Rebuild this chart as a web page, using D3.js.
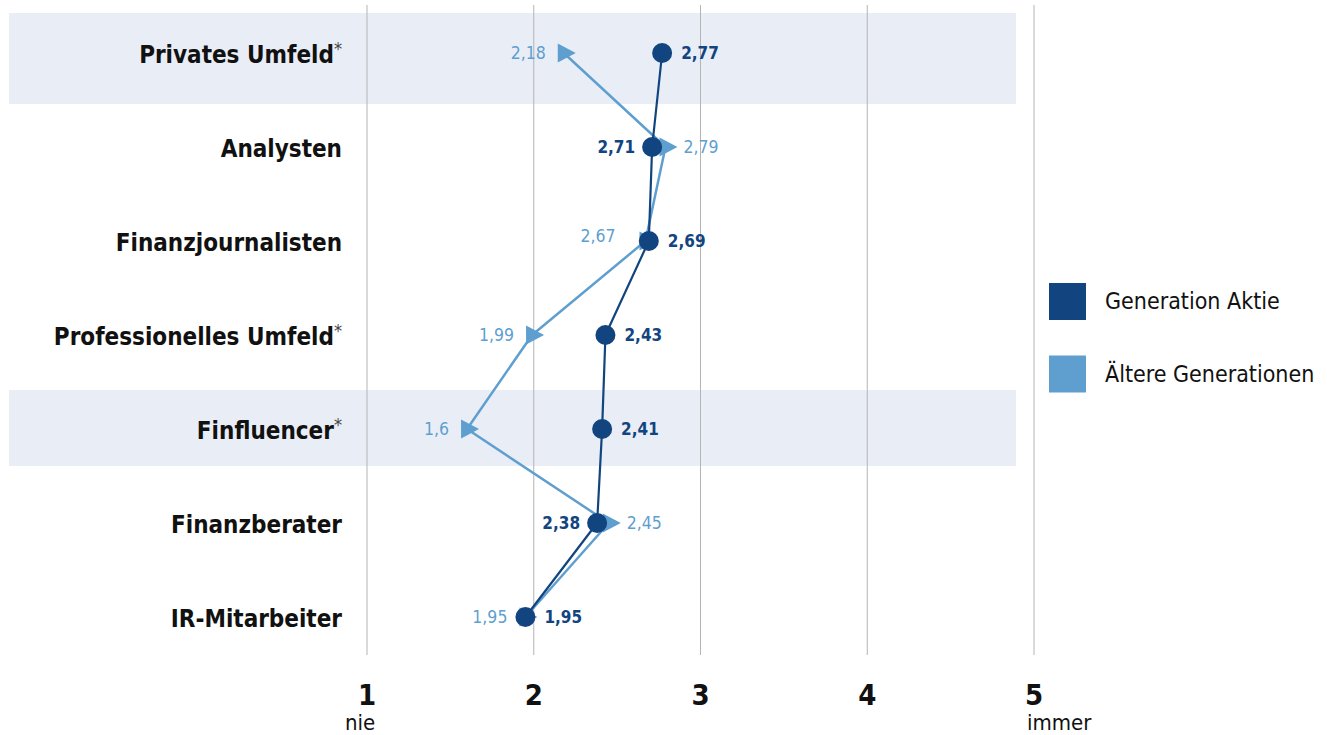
<!DOCTYPE html>
<html>
<head>
<meta charset="utf-8">
<script src="https://cdn.jsdelivr.net/npm/d3@7"></script>
<style>
  html, body { margin: 0; padding: 0; background: #ffffff; }
  svg { display: block; }
  text { font-family: "DejaVu Sans Condensed", "Liberation Sans Narrow", sans-serif; }
</style>
</head>
<body>
<svg id="chart" width="1327" height="735"></svg>
<script>
// Sources of information, rated 1 (nie) to 5 (immer)
const categories = [
  "Privates Umfeld", "Analysten", "Finanzjournalisten",
  "Professionelles Umfeld", "Finfluencer", "Finanzberater", "IR-Mitarbeiter"
];
const starred = [true, false, false, true, true, false, false];
const generationAktie = [2.77, 2.71, 2.69, 2.43, 2.41, 2.38, 1.95];
const aeltereGenerationen = [2.18, 2.79, 2.67, 1.99, 1.6, 2.45, 1.95];
const seriesNames = ["Generation Aktie", "Ältere Generationen"];
const tickValues = [1, 2, 3, 4, 5];
const tickSubLabels = { 1: "nie", 5: "immer" };
const highlighted = ["Privates Umfeld", "Finfluencer"];

// Which side of the marker each value label sits on
const darkLabelSide = ["right", "left", "right", "right", "right", "left", "right"];
const lightLabelSide = ["left", "right", "left", "left", "left", "right", "left"];

const colors = { dark: "#12457f", light: "#5f9fcf", band: "#e9eef6", grid: "#b4b4b4" };
const fmt = v => String(v).replace(".", ",");

const svg = d3.select("#chart");

const x = d3.scaleLinear().domain([1, 5]).range([367, 1034]);
const y = d3.scalePoint().domain(categories).range([53, 617]);

// Highlight bands behind starred rows
const bandHeights = { "Privates Umfeld": [40, 51], "Finfluencer": [39, 37] };
svg.append("g").selectAll("rect")
  .data(highlighted)
  .join("rect")
  .attr("x", 9)
  .attr("width", 1016 - 9)
  .attr("y", d => y(d) - bandHeights[d][0])
  .attr("height", d => bandHeights[d][0] + bandHeights[d][1])
  .attr("fill", colors.band);

// Vertical gridlines
svg.append("g").selectAll("line")
  .data(tickValues)
  .join("line")
  .attr("x1", d => x(d)).attr("x2", d => x(d))
  .attr("y1", 5).attr("y2", 655)
  .attr("stroke", colors.grid)
  .attr("stroke-width", 1);

// Axis tick labels
const axis = svg.append("g");
axis.selectAll("text.tick")
  .data(tickValues)
  .join("text")
  .attr("class", "tick")
  .attr("x", d => x(d))
  .attr("y", 705)
  .attr("text-anchor", "middle")
  .attr("font-size", 29)
  .attr("font-weight", "bold")
  .attr("fill", "#111")
  .text(d => d);
axis.selectAll("text.sub")
  .data(tickValues.filter(d => tickSubLabels[d]))
  .join("text")
  .attr("class", "sub")
  .attr("x", d => x(d) - 7)
  .attr("y", 730)
  .attr("text-anchor", d => d === 1 ? "middle" : "start")
  .attr("font-size", 22)
  .attr("fill", "#111")
  .text(d => tickSubLabels[d]);

// Category labels
const catLabels = svg.append("g").selectAll("text")
  .data(categories)
  .join("text")
  .attr("x", 342)
  .attr("y", d => y(d) + 10)
  .attr("text-anchor", "end")
  .attr("font-size", 24)
  .attr("font-weight", "bold")
  .attr("fill", "#111");
catLabels.append("tspan").text(d => d);
catLabels.filter((d, i) => starred[i])
  .append("tspan")
  .attr("font-size", 18)
  .attr("font-weight", "normal")
  .attr("fill", "#444")
  .attr("dy", -8)
  .text("*");

// Series lines
const lineFor = values => d3.line()
  .x((d, i) => x(values[i]))
  .y(d => y(d))(categories);

svg.append("path")
  .attr("d", lineFor(aeltereGenerationen))
  .attr("fill", "none")
  .attr("stroke", colors.light)
  .attr("stroke-width", 2.5)
  .attr("stroke-linejoin", "round");

// Light series markers: right-pointing triangles
svg.append("g").selectAll("path")
  .data(categories)
  .join("path")
  .attr("transform", (d, i) => `translate(${x(aeltereGenerationen[i])},${y(d)})`)
  .attr("d", "M-6,-9.5L12,0L-6,9.5Z")
  .attr("fill", colors.light);

svg.append("path")
  .attr("d", lineFor(generationAktie))
  .attr("fill", "none")
  .attr("stroke", colors.dark)
  .attr("stroke-width", 2.2)
  .attr("stroke-linejoin", "round");

svg.append("g").selectAll("circle")
  .data(categories)
  .join("circle")
  .attr("cx", (d, i) => x(generationAktie[i]))
  .attr("cy", d => y(d))
  .attr("r", 10)
  .attr("fill", colors.dark);

// Value labels
const lightLabelDy = [0, 0, -5, 0, 0, 0, 0];
svg.append("g").selectAll("text")
  .data(categories)
  .join("text")
  .attr("x", (d, i) => x(aeltereGenerationen[i]) + (lightLabelSide[i] === "left" ? (i === 2 ? -30 : -18) : 18))
  .attr("y", (d, i) => y(d) + 6 + lightLabelDy[i])
  .attr("text-anchor", (d, i) => lightLabelSide[i] === "left" ? "end" : "start")
  .attr("font-size", 17.5)
  .attr("fill", colors.light)
  .text((d, i) => fmt(aeltereGenerationen[i]));

svg.append("g").selectAll("text")
  .data(categories)
  .join("text")
  .attr("x", (d, i) => x(generationAktie[i]) + (darkLabelSide[i] === "left" ? -17 : 19))
  .attr("y", (d, i) => y(d) + 6)
  .attr("text-anchor", (d, i) => darkLabelSide[i] === "left" ? "end" : "start")
  .attr("font-size", 17)
  .attr("font-weight", "bold")
  .attr("fill", colors.dark)
  .text((d, i) => fmt(generationAktie[i]));

// Legend
const legend = svg.append("g").attr("transform", "translate(1049,283)");
const legendItems = legend.selectAll("g")
  .data(seriesNames)
  .join("g")
  .attr("transform", (d, i) => `translate(0,${i * 72.5})`);
legendItems.append("rect")
  .attr("width", 37).attr("height", 37)
  .attr("fill", (d, i) => i === 0 ? colors.dark : colors.light);
legendItems.append("text")
  .attr("x", 56)
  .attr("y", 26)
  .attr("font-size", 23)
  .attr("fill", "#111")
  .text(d => d);
</script>
</body>
</html>
